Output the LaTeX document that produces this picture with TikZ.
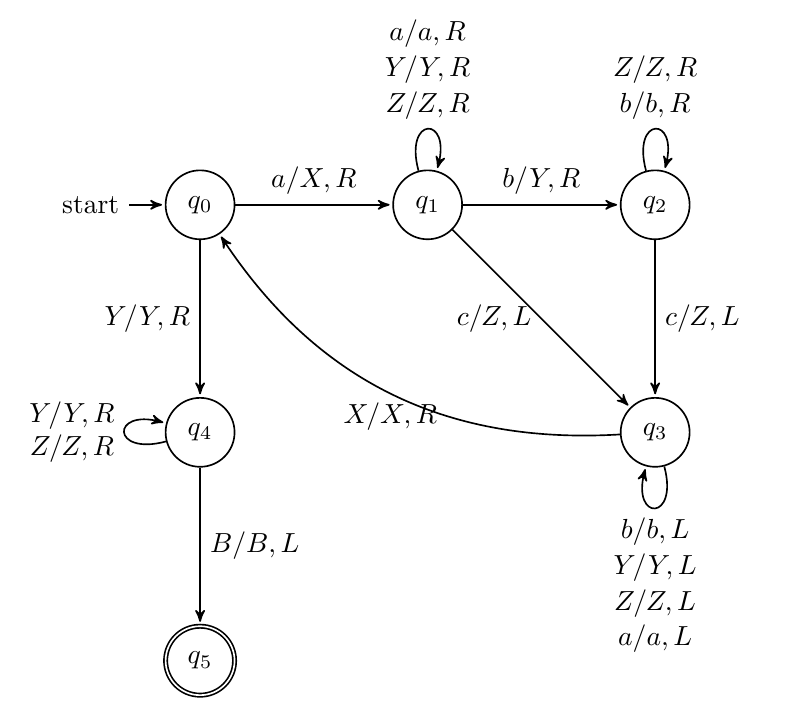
\documentclass[tikz,border=0pt]{standalone}
\usepackage{amsmath,amssymb,amsfonts}
\usepackage{tikz}
\usetikzlibrary{automata,positioning,arrows}

\begin{document}
\begin{tikzpicture}[->,>=stealth',shorten >=1pt,auto,node distance=2cm,semithick]
                    \useasboundingbox (-2.55,2.61) rectangle (7.48,-6.65);
                    \node[initial,state] (q0) {$q_0$};
                    \node[state] (q1) [right=of q0] {$q_1$};
                    \node[state] (q2) [right=of q1] {$q_2$};
                    \node[state] (q3) [below=of q2] {$q_3$};
                    \node[state] (q4) [below=of q0] {$q_4$};
                    \node[state,accepting] (q5) [below=of q4] {$q_5$};
                    \path (q0) edge node {$a/X,R$} (q1)
                               edge node[left] {$Y/Y,R$} (q4)
                          (q1) edge [loop above] node[align=center] {$a/a,R$\\[1pt]$Y/Y,R$\\[1pt]$Z/Z,R$} ()
                               edge node {$b/Y,R$} (q2)
                               edge node[left] {$c/Z,L$} (q3)
                          (q2) edge [loop above] node[align=center] {$Z/Z,R$\\[1pt]$b/b,R$} ()
                               edge node {$c/Z,L$} (q3)
                          (q3) edge [loop below] node[align=center] {$b/b,L$\\[1pt]$Y/Y,L$\\[1pt]$Z/Z,L$\\[1pt]$a/a,L$} ()
                               edge [bend left] node[below] {$X/X,R$} (q0)
                          (q4) edge [loop left] node[align=center] {$Y/Y,R$\\$Z/Z,R$} ()
                               edge node {$B/B,L$} (q5);
                \end{tikzpicture}
\end{document}
